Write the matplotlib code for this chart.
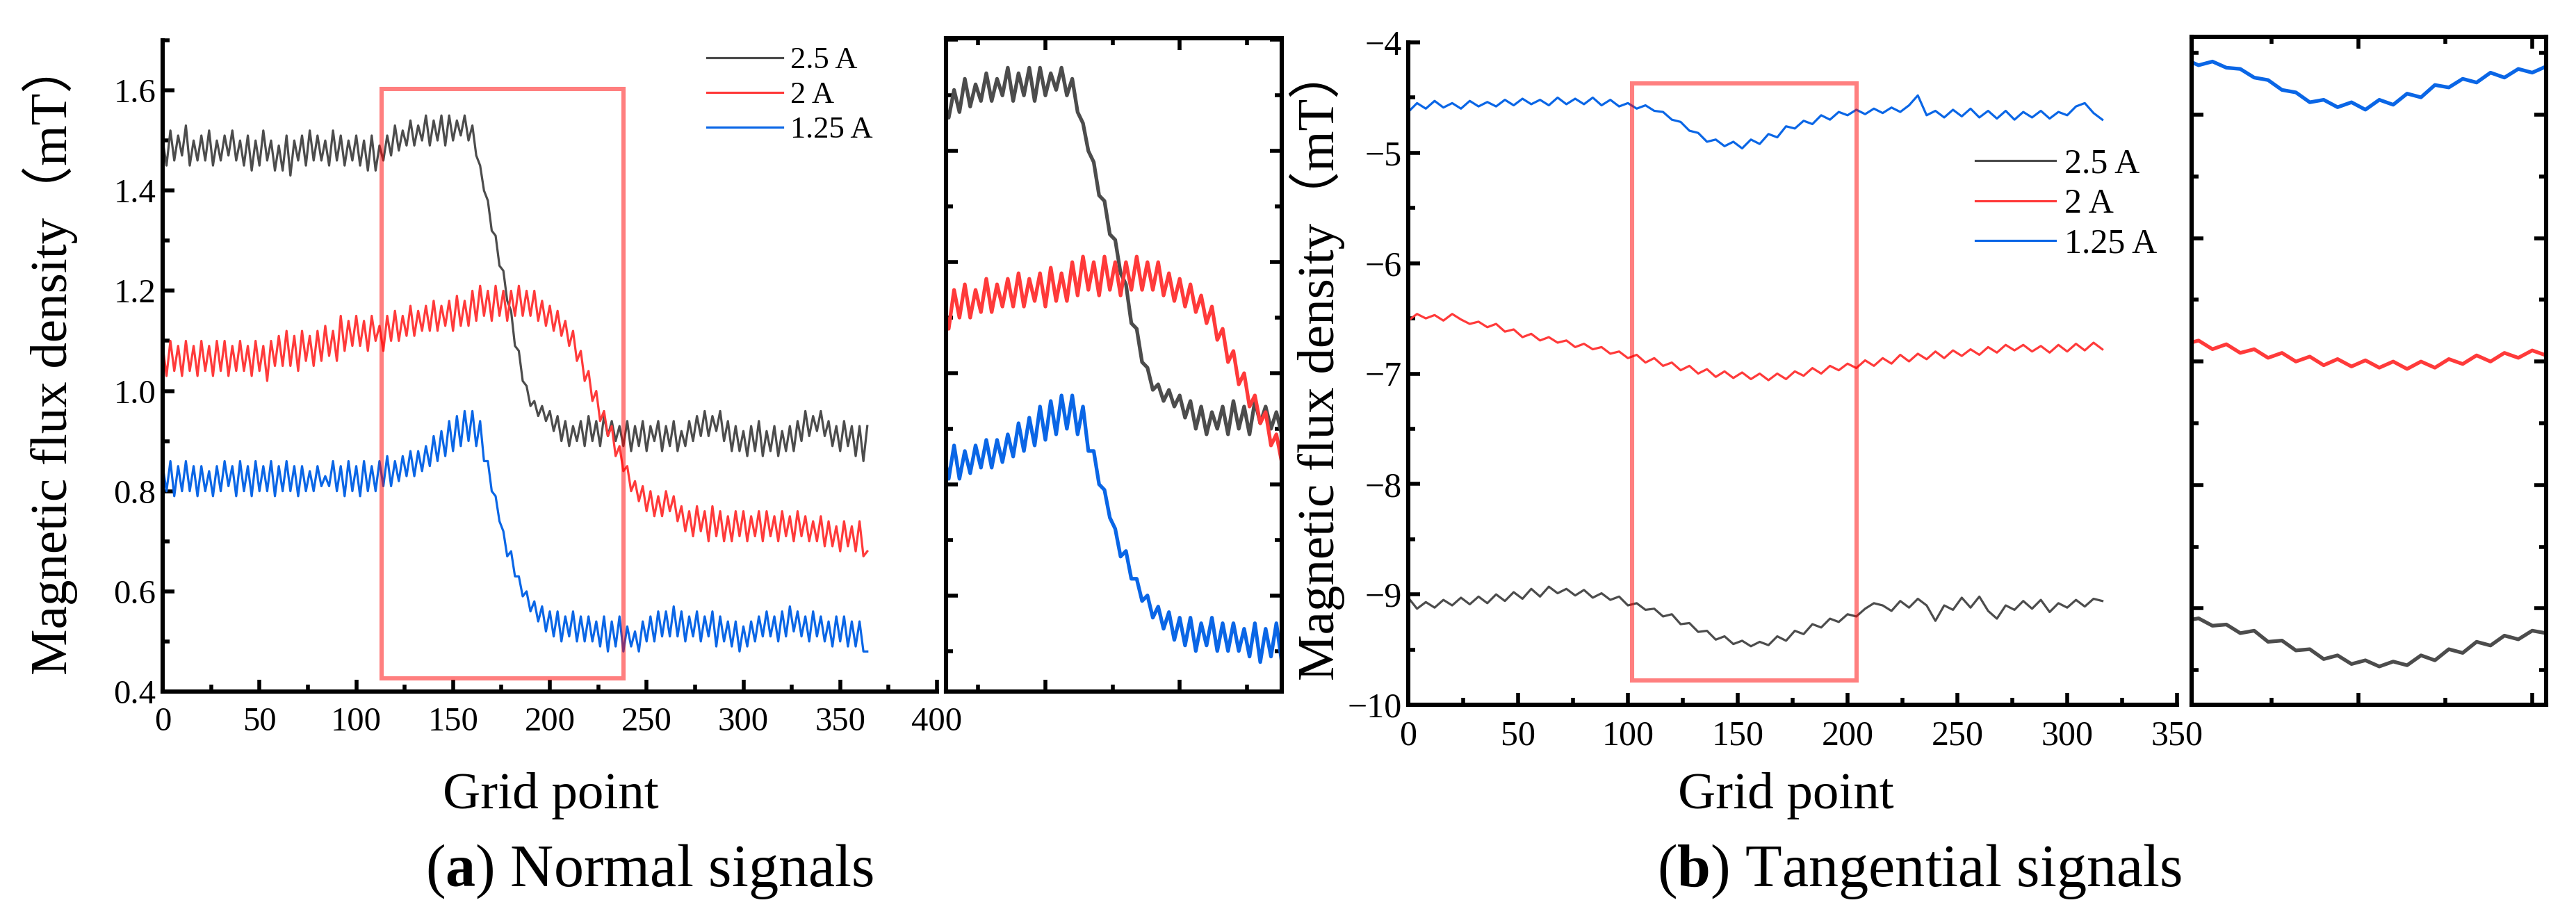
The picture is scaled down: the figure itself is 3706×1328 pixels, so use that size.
import numpy as np
import matplotlib
matplotlib.use("Agg")
import matplotlib.pyplot as plt
from matplotlib.patches import Rectangle
from matplotlib.ticker import MultipleLocator

plt.rcParams['font.family'] = ['Liberation Serif', 'Noto Sans CJK SC']
plt.rcParams['mathtext.fontset'] = 'custom'
plt.rcParams['mathtext.rm'] = 'Liberation Serif'
plt.rcParams['mathtext.bf'] = 'Liberation Serif:bold'
plt.rcParams['lines.solid_joinstyle'] = 'round'

# ---- data ----
labels = ['2.5 A', '2 A', '1.25 A']
colors = ['#4c4c4c', '#ff3a3a', '#0a66e6']

# (a) normal signals, every 2nd grid point 0..364
grid_a = np.arange(0, 365, 2)
normal_25 = [
    1.50, 1.45, 1.52, 1.46, 1.51, 1.47, 1.53, 1.45, 1.50, 1.46,
    1.51, 1.46, 1.52, 1.45, 1.50, 1.46, 1.51, 1.47, 1.52, 1.46,
    1.50, 1.45, 1.51, 1.44, 1.50, 1.45, 1.52, 1.46, 1.50, 1.44,
    1.49, 1.44, 1.51, 1.43, 1.50, 1.46, 1.51, 1.45, 1.52, 1.46,
    1.51, 1.46, 1.50, 1.45, 1.52, 1.46, 1.51, 1.45, 1.50, 1.46,
    1.51, 1.45, 1.50, 1.44, 1.51, 1.44, 1.49, 1.46, 1.51, 1.47,
    1.53, 1.48, 1.52, 1.49, 1.54, 1.49, 1.53, 1.50, 1.55, 1.49,
    1.54, 1.50, 1.55, 1.49, 1.55, 1.50, 1.54, 1.51, 1.55, 1.50,
    1.53, 1.47, 1.45, 1.40, 1.38, 1.32, 1.31, 1.25, 1.24, 1.18,
    1.16, 1.09, 1.08, 1.02, 1.01, 0.97, 0.98, 0.95, 0.97, 0.94,
    0.96, 0.92, 0.95, 0.90, 0.94, 0.89, 0.93, 0.90, 0.94, 0.89,
    0.95, 0.90, 0.94, 0.89, 0.95, 0.91, 0.94, 0.90, 0.93, 0.89,
    0.94, 0.88, 0.93, 0.89, 0.94, 0.88, 0.93, 0.90, 0.94, 0.88,
    0.93, 0.89, 0.94, 0.88, 0.92, 0.89, 0.94, 0.90, 0.95, 0.91,
    0.96, 0.91, 0.95, 0.92, 0.96, 0.90, 0.94, 0.88, 0.93, 0.88,
    0.92, 0.87, 0.93, 0.88, 0.94, 0.87, 0.92, 0.88, 0.93, 0.87,
    0.92, 0.88, 0.93, 0.88, 0.94, 0.90, 0.96, 0.91, 0.95, 0.92,
    0.96, 0.91, 0.94, 0.89, 0.93, 0.88, 0.94, 0.89, 0.93, 0.87,
    0.93, 0.86, 0.93]
normal_2 = [
    1.09, 1.03, 1.10, 1.04, 1.09, 1.03, 1.10, 1.04, 1.09, 1.03,
    1.10, 1.04, 1.09, 1.03, 1.10, 1.04, 1.10, 1.03, 1.09, 1.04,
    1.10, 1.04, 1.09, 1.03, 1.10, 1.04, 1.09, 1.02, 1.10, 1.05,
    1.11, 1.05, 1.12, 1.05, 1.11, 1.04, 1.12, 1.06, 1.11, 1.05,
    1.12, 1.06, 1.13, 1.07, 1.12, 1.06, 1.15, 1.08, 1.14, 1.09,
    1.15, 1.09, 1.14, 1.08, 1.15, 1.10, 1.13, 1.08, 1.15, 1.10,
    1.16, 1.10, 1.15, 1.11, 1.17, 1.11, 1.16, 1.12, 1.17, 1.12,
    1.18, 1.12, 1.17, 1.13, 1.18, 1.12, 1.19, 1.13, 1.18, 1.13,
    1.20, 1.14, 1.21, 1.15, 1.20, 1.14, 1.21, 1.15, 1.20, 1.14,
    1.20, 1.15, 1.21, 1.15, 1.20, 1.15, 1.20, 1.14, 1.18, 1.13,
    1.17, 1.12, 1.16, 1.11, 1.14, 1.09, 1.12, 1.06, 1.08, 1.02,
    1.04, 0.98, 1.00, 0.94, 0.96, 0.91, 0.93, 0.87, 0.89, 0.84,
    0.85, 0.80, 0.82, 0.78, 0.81, 0.76, 0.80, 0.75, 0.79, 0.75,
    0.80, 0.76, 0.79, 0.74, 0.77, 0.72, 0.76, 0.71, 0.77, 0.72,
    0.76, 0.70, 0.77, 0.71, 0.76, 0.70, 0.75, 0.70, 0.76, 0.71,
    0.76, 0.70, 0.75, 0.71, 0.76, 0.70, 0.76, 0.71, 0.75, 0.70,
    0.76, 0.71, 0.75, 0.70, 0.76, 0.71, 0.75, 0.70, 0.74, 0.70,
    0.75, 0.69, 0.74, 0.69, 0.73, 0.68, 0.74, 0.69, 0.73, 0.68,
    0.74, 0.67, 0.68]
normal_125 = [
    0.85, 0.80, 0.86, 0.79, 0.85, 0.80, 0.86, 0.80, 0.85, 0.79,
    0.85, 0.80, 0.84, 0.79, 0.85, 0.80, 0.86, 0.81, 0.85, 0.79,
    0.86, 0.80, 0.85, 0.79, 0.86, 0.80, 0.85, 0.80, 0.86, 0.79,
    0.85, 0.80, 0.86, 0.80, 0.85, 0.79, 0.85, 0.80, 0.84, 0.80,
    0.85, 0.81, 0.83, 0.81, 0.86, 0.80, 0.85, 0.79, 0.86, 0.80,
    0.85, 0.79, 0.86, 0.80, 0.85, 0.80, 0.86, 0.81, 0.87, 0.81,
    0.86, 0.82, 0.87, 0.83, 0.88, 0.83, 0.88, 0.84, 0.89, 0.85,
    0.91, 0.86, 0.92, 0.87, 0.94, 0.88, 0.95, 0.89, 0.96, 0.90,
    0.96, 0.89, 0.94, 0.86, 0.86, 0.80, 0.79, 0.74, 0.72, 0.67,
    0.68, 0.63, 0.63, 0.59, 0.60, 0.56, 0.58, 0.54, 0.57, 0.52,
    0.56, 0.51, 0.56, 0.50, 0.55, 0.51, 0.56, 0.50, 0.55, 0.50,
    0.55, 0.50, 0.54, 0.49, 0.55, 0.48, 0.54, 0.49, 0.55, 0.48,
    0.53, 0.49, 0.52, 0.48, 0.54, 0.50, 0.55, 0.50, 0.56, 0.51,
    0.56, 0.51, 0.57, 0.51, 0.56, 0.50, 0.55, 0.51, 0.56, 0.50,
    0.55, 0.51, 0.56, 0.49, 0.55, 0.50, 0.54, 0.49, 0.54, 0.48,
    0.53, 0.49, 0.54, 0.50, 0.55, 0.51, 0.56, 0.51, 0.55, 0.50,
    0.56, 0.51, 0.57, 0.52, 0.56, 0.51, 0.55, 0.50, 0.56, 0.51,
    0.55, 0.50, 0.54, 0.49, 0.55, 0.50, 0.55, 0.49, 0.54, 0.49,
    0.54, 0.48, 0.48]

# (b) tangential signals, every 4th grid point 0..316
grid_b = np.arange(0, 320, 4)
tang_25 = [
    -9.03, -9.13, -9.07, -9.12, -9.05, -9.10, -9.03, -9.09, -9.02, -9.08,
    -9.00, -9.06, -8.98, -9.04, -8.95, -9.02, -8.93, -8.99, -8.95, -9.01,
    -8.96, -9.03, -8.99, -9.05, -9.02, -9.10, -9.08, -9.14, -9.13, -9.20,
    -9.18, -9.27, -9.26, -9.34, -9.33, -9.41, -9.38, -9.45, -9.42, -9.47,
    -9.43, -9.46, -9.38, -9.42, -9.33, -9.36, -9.27, -9.30, -9.22, -9.25,
    -9.18, -9.20, -9.13, -9.08, -9.10, -9.15, -9.06, -9.12, -9.04, -9.10,
    -9.24, -9.10, -9.14, -9.03, -9.12, -9.02, -9.15, -9.22, -9.10, -9.14,
    -9.06, -9.13, -9.05, -9.16, -9.08, -9.12, -9.05, -9.11, -9.04, -9.06]
tang_2 = [
    -6.52, -6.46, -6.50, -6.47, -6.52, -6.46, -6.51, -6.55, -6.53, -6.58,
    -6.55, -6.62, -6.60, -6.67, -6.64, -6.70, -6.67, -6.72, -6.70, -6.76,
    -6.73, -6.78, -6.76, -6.82, -6.80, -6.86, -6.83, -6.90, -6.86, -6.93,
    -6.90, -6.97, -6.93, -7.00, -6.96, -7.03, -6.98, -7.04, -6.99, -7.05,
    -7.00, -7.06, -7.00, -7.05, -6.98, -7.02, -6.95, -7.00, -6.93, -6.97,
    -6.91, -6.95, -6.88, -6.93, -6.86, -6.91, -6.83, -6.89, -6.82, -6.87,
    -6.80, -6.86, -6.79, -6.84, -6.78, -6.83, -6.76, -6.81, -6.74, -6.79,
    -6.74, -6.80, -6.75, -6.81, -6.74, -6.80, -6.73, -6.79, -6.72, -6.78]
tang_125 = [
    -4.63, -4.55, -4.60, -4.53, -4.59, -4.55, -4.60, -4.53, -4.58, -4.54,
    -4.58, -4.52, -4.57, -4.51, -4.56, -4.52, -4.57, -4.50, -4.56, -4.51,
    -4.56, -4.50, -4.57, -4.52, -4.58, -4.55, -4.60, -4.57, -4.62, -4.63,
    -4.70, -4.72, -4.80, -4.82, -4.90, -4.88, -4.94, -4.90, -4.96, -4.88,
    -4.92, -4.83, -4.86, -4.76, -4.78, -4.71, -4.74, -4.66, -4.70, -4.63,
    -4.66, -4.61, -4.65, -4.60, -4.64, -4.59, -4.63, -4.57, -4.48, -4.66,
    -4.62, -4.68, -4.61, -4.67, -4.60, -4.68, -4.62, -4.69, -4.62, -4.70,
    -4.63, -4.68, -4.62, -4.69, -4.63, -4.66, -4.58, -4.55, -4.64, -4.70]

# zoom windows (the red boxes)
box_a = (113, 238, 0.427, 1.603)
box_b = (102, 204, -9.78, -4.37)

W, H = 3706, 1328
fig = plt.figure(figsize=(W / 200, H / 200), dpi=200)


def px_axes(l, t, r, b):
    return fig.add_axes([l / W, 1 - b / H, (r - l) / W, (b - t) / H])


def style(ax, xmaj, xmin, ymaj, ymin, full, fs):
    ax.xaxis.set_major_locator(MultipleLocator(xmaj))
    ax.xaxis.set_minor_locator(MultipleLocator(xmin))
    ax.yaxis.set_major_locator(MultipleLocator(ymaj))
    ax.yaxis.set_minor_locator(MultipleLocator(ymin))
    for s in ax.spines.values():
        s.set_linewidth(2.2)
    if full:
        ax.tick_params(which='both', direction='in', top=True, right=True,
                       labelbottom=False, labelleft=False, width=2.0)
    else:
        ax.spines['top'].set_visible(False)
        ax.spines['right'].set_visible(False)
        ax.tick_params(which='both', direction='in', width=2.0, labelsize=fs)
    ax.tick_params(which='major', length=6)
    ax.tick_params(which='minor', length=3.5)


# ---------- (a) ----------
ax_a = px_axes(234, 58, 1348, 995)
for yv, c, lab in zip([normal_25, normal_2, normal_125], colors, labels):
    ax_a.plot(grid_a, yv, color=c, lw=1.15, label=lab)
ax_a.set_xlim(0, 400)
ax_a.set_ylim(0.4, 1.7)
style(ax_a, 50, 25, 0.2, 0.1, False, 17.5)
ax_a.tick_params(axis='x', pad=8)
ax_a.add_patch(Rectangle((box_a[0], box_a[2]), box_a[1] - box_a[0], box_a[3] - box_a[2],
                         fill=False, ec=(1, 0, 0, 0.5), lw=2.2, zorder=4))
ax_a.legend(loc='upper left', bbox_to_anchor=(0.703, 0.99), frameon=False,
            fontsize=16, handlelength=2.45, handletextpad=0.25,
            labelspacing=0.22, borderpad=0, borderaxespad=0)

ins_a = px_axes(1361, 55, 1844, 995)
for yv, c in zip([normal_25, normal_2, normal_125], colors):
    ins_a.plot(grid_a, yv, color=c, lw=1.9)
ins_a.set_xlim(box_a[0], box_a[1])
ins_a.set_ylim(box_a[2], box_a[3])
style(ins_a, 50, 25, 0.2, 0.1, True, 17.5)

# ---------- (b) ----------
ax_b = px_axes(2026, 61, 3132, 1014)
for yv, c, lab in zip([tang_25, tang_2, tang_125], colors, labels):
    ax_b.plot(grid_b, yv, color=c, lw=1.15, label=lab)
ax_b.set_xlim(0, 350)
ax_b.set_ylim(-10, -4)
style(ax_b, 50, 25, 1, 0.5, False, 18)
ax_b.tick_params(axis='x', pad=8)
ax_b.add_patch(Rectangle((box_b[0], box_b[2]), box_b[1] - box_b[0], box_b[3] - box_b[2],
                         fill=False, ec=(1, 0, 0, 0.5), lw=2.2, zorder=4))
ax_b.legend(loc='upper left', bbox_to_anchor=(0.738, 0.84), frameon=False,
            fontsize=18, handlelength=2.3, handletextpad=0.25,
            labelspacing=0.22, borderpad=0, borderaxespad=0)

ins_b = px_axes(3153, 53, 3663, 1014)
for yv, c in zip([tang_25, tang_2, tang_125], colors):
    ins_b.plot(grid_b, yv, color=c, lw=1.9)
ins_b.set_xlim(box_b[0], box_b[1])
ins_b.set_ylim(box_b[2], box_b[3])
style(ins_b, 50, 25, 1, 0.5, True, 18)

# ---------- labels ----------
ylab = 'Magnetic flux density（mT）'
fig.text(72 / W, 1 - 515 / H, ylab, rotation=90, ha='center', va='center', fontsize=27)
fig.text(1895 / W, 1 - 523 / H, ylab, rotation=90, ha='center', va='center', fontsize=27)
fig.text(792 / W, 1 - 1145 / H, 'Grid point', ha='center', va='center', fontsize=27)
fig.text(2569 / W, 1 - 1145 / H, 'Grid point', ha='center', va='center', fontsize=27)
fig.text(934 / W, 1 - 1254 / H, r'($\mathbf{a}$) Normal signals', ha='center', va='center', fontsize=31)
fig.text(2761 / W, 1 - 1254 / H, r'($\mathbf{b}$) Tangential signals', ha='center', va='center', fontsize=31)

fig.savefig('out.png', dpi=200, facecolor='white')
